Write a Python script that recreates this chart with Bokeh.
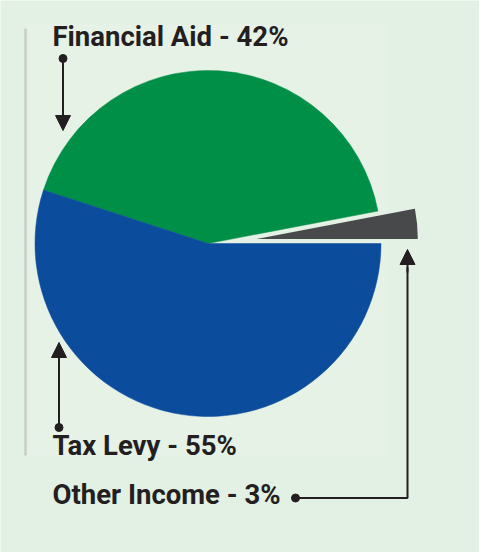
import math
from bokeh.plotting import figure
from bokeh.models import Range1d, Arrow, NormalHead
from bokeh.core.properties import value
from bokeh.embed import file_html
from bokeh.resources import INLINE

# ---- data ----
categories = ["Other Income", "Financial Aid", "Tax Levy"]
shares = [3, 42, 55]
colors = ["#48494b", "#008f47", "#0b4c9c"]
explode = [38, 0, 0]
labels = ["Financial Aid - 42%", "Tax Levy - 55%", "Other Income - 3%"]

W, H = 479, 552
BG = "#e3f0e4"

def sx(x):
    return x - 8

def sy(y):
    return 560 - y

p = figure(width=W, height=H, output_backend="svg", toolbar_location=None,
           x_range=Range1d(0, W), y_range=Range1d(0, H),
           min_border=0, background_fill_color=BG, border_fill_color=BG,
           outline_line_color=None)
p.axis.visible = False
p.grid.visible = False

# faint inner panel and left rule
p.quad(left=sx(35), right=sx(396), bottom=sy(463), top=sy(32),
       fill_color="#e7f2e7", line_color=None)
p.line([sx(33), sx(33)], [sy(36), sy(463)], line_color="#c9cdc9", line_width=2.5)

# ---- pie ----
cx, cy, r = sx(215.5), sy(251), 173
total = sum(shares)
start = 0.0
for cat, v, c, ex in zip(categories, shares, colors, explode):
    a0 = start
    a1 = start + 2 * math.pi * v / total
    mid = (a0 + a1) / 2
    ox = cx + ex * math.cos(mid)
    oy = cy + ex * math.sin(mid)
    p.wedge(x=ox, y=oy, radius=r, start_angle=a0, end_angle=a1,
            fill_color=c, line_color=BG if ex else c,
            line_width=2 if ex else 0.5)
    start = a1

# ---- labels ----
font = value("Roboto")
label_pos = [(60, 44), (60, 453), (60, 502)]
for t, (lx, ly) in zip(labels, label_pos):
    p.text(x=[sx(lx)], y=[sy(ly)], text=[t], text_font=font,
           text_font_size="27.5px", text_font_style="bold",
           text_color="#231f20", text_baseline="alphabetic", text_align="left")

# ---- connectors ----
ink = "#231f20"
def arrow(x0, y0, x1, y1):
    p.add_layout(Arrow(x_start=sx(x0), y_start=sy(y0), x_end=sx(x1), y_end=sy(y1),
                       line_color=ink, line_width=2,
                       end=NormalHead(size=15, fill_color=ink, line_color=ink)))

arrow(70.5, 66, 70.5, 138)
arrow(66.5, 435, 66.5, 350)
p.line([sx(303), sx(415), sx(415)], [sy(505.5), sy(505.5), sy(275)],
       line_color=ink, line_width=2)
arrow(415, 280, 415, 257)
p.scatter([sx(70.5), sx(66.5), sx(303)], [sy(66), sy(435), sy(505.5)],
          size=8, color=ink)

open("out.html", "w").write(file_html(p, INLINE))
